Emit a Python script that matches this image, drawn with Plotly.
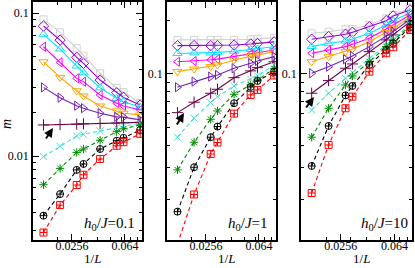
import numpy as np
import plotly.graph_objects as go

# ---------------- data ----------------
L_values = [64, 48, 36, 32, 24, 18, 16, 12]
inv_L = [1.0 / L for L in L_values]

h0_labels = ["0.1", "1", "10"]

# panel 1 : h0/J = 0.1
p1_grey = [0.0903, 0.0733, 0.0567, 0.0503, 0.0379, 0.0299, 0.0280, 0.0235]
p1_violet = [0.0811, 0.0647, 0.0490, 0.0445, 0.0340, 0.0277, 0.0257, 0.0227]
p1_cyan = [0.0710, 0.0560, 0.0426, 0.0382, 0.0300, 0.0253, 0.0240, 0.0220]
p1_magenta = [0.0581, 0.0452, 0.0349, 0.0331, 0.0267, 0.0234, 0.0224, 0.0210]
p1_orange = [0.0456, 0.0355, 0.0286, 0.0263, 0.0224, 0.0207, 0.0199, 0.0194]
p1_indigo = [0.0302, 0.0256, 0.0225, 0.0216, 0.0199, 0.0188, 0.0187, 0.0179]
p1_maroon = [0.0165, 0.0166, 0.0167, 0.0168, 0.0169, 0.0170, 0.0171, 0.0172]
p1_turquoise = [0.0099, 0.0117, 0.0138, 0.0142, 0.0150, 0.0158, 0.0162, 0.0170]
p1_green = [0.0063, 0.0082, 0.0106, 0.0112, 0.0129, 0.0148, 0.0155, 0.0165]
p1_black = [0.00383, 0.00542, 0.0080, 0.0088, 0.0112, 0.0128, 0.0134, 0.0152]
p1_red = [0.00292, 0.00454, 0.00627, 0.0074, 0.00953, 0.0118, 0.0125, 0.0143]

# panel 2 : h0/J = 1
p2_grey = [0.155, 0.155, 0.155, 0.155, 0.155, 0.156, 0.157, 0.159]
p2_violet = [0.144, 0.144, 0.144, 0.144, 0.145, 0.147, 0.148, 0.151]
p2_cyan = [0.130, 0.131, 0.131, 0.132, 0.134, 0.137, 0.138, 0.142]
p2_magenta = [0.117, 0.118, 0.120, 0.121, 0.125, 0.129, 0.131, 0.136]
p2_orange = [0.1030, 0.1066, 0.1099, 0.1123, 0.1197, 0.125, 0.1277, 0.1332]
p2_indigo = [0.0843, 0.0906, 0.0966, 0.0987, 0.1076, 0.1148, 0.1182, 0.125]
p2_maroon = [0.0608, 0.0695, 0.078, 0.0821, 0.0953, 0.104, 0.1084, 0.117]
p2_turquoise = [0.0443, 0.0566, 0.0692, 0.0747, 0.0857, 0.0934, 0.0975, 0.112]
p2_green = [0.0291, 0.0415, 0.0558, 0.0621, 0.0770, 0.0868, 0.0926, 0.107]
p2_black = [0.0170, 0.0301, 0.0443, 0.0508, 0.0686, 0.0846, 0.0914, 0.103]
p2_red = [0.0112, 0.0212, 0.0357, 0.0414, 0.0600, 0.0763, 0.0814, 0.098]

# panel 3 : h0/J = 10
p3_grey = [0.1688, 0.1723, 0.1777, 0.1784, 0.1878, 0.2047, 0.2136, 0.2328]
p3_violet = [0.1563, 0.1616, 0.1667, 0.171, 0.1837, 0.1985, 0.2109, 0.2278]
p3_cyan = [0.1421, 0.1484, 0.1529, 0.1568, 0.1688, 0.1878, 0.1985, 0.2201]
p3_magenta = [0.1305, 0.1361, 0.1421, 0.1466, 0.1583, 0.1784, 0.1878, 0.2136]
p3_orange = [0.1171, 0.1249, 0.1332, 0.1379, 0.1515, 0.1701, 0.18, 0.2074]
p3_indigo = [0.1009, 0.1098, 0.1208, 0.126, 0.1421, 0.1631, 0.1723, 0.2021]
p3_maroon = [0.078, 0.0918, 0.1076, 0.1137, 0.1332, 0.1549, 0.1652, 0.1959]
p3_turquoise = [0.0629, 0.078, 0.0946, 0.1017, 0.1224, 0.1452, 0.1563, 0.1902]
p3_green = [0.0443, 0.0643, 0.0868, 0.0974, 0.1171, 0.1421, 0.1535, 0.1854]
p3_black = [0.0306, 0.0512, 0.0759, 0.0857, 0.1123, 0.1361, 0.1484, 0.1823]
p3_red = [0.0216, 0.0401, 0.0643, 0.0747, 0.103, 0.1305, 0.141, 0.1761]

x_tickvals = [0.0256, 0.064]
x_ticktext = ["0.0256", "0.064"]
x_minor = [0.02, 0.03, 0.04, 0.05, 0.06, 0.07, 0.08]
y_tickvals = [0.01, 0.1]
y_ticktext = ["0.01", "0.1"]
y_minor = [0.002, 0.003, 0.004, 0.005, 0.006, 0.007, 0.008, 0.009,
           0.02, 0.03, 0.04, 0.05, 0.06, 0.07, 0.08, 0.09, 0.2]

# ---------------- styles ----------------
colors = ["#d2d2d2", "#9400d3", "#00e5ff", "#ff00ff", "#ffa500", "#7221bc",
          "#670748", "#40e0d0", "#008b00", "#000000", "#ff0000"]
symbols = ["square-open", "diamond-open", "triangle-up-open", "triangle-left-open",
           "triangle-down-open", "triangle-right-open", "cross-thin-open",
           "x-thin-open", "asterisk-open", "circle-cross-open", "square-cross-open"]
sizes = [7, 8, 8, 8, 8, 8, 8, 7, 7, 7, 7]
dashes = ["solid"] * 7 + ["4px,3px"] * 4

panels = [
    [p1_grey, p1_violet, p1_cyan, p1_magenta, p1_orange, p1_indigo, p1_maroon,
     p1_turquoise, p1_green, p1_black, p1_red],
    [p2_grey, p2_violet, p2_cyan, p2_magenta, p2_orange, p2_indigo, p2_maroon,
     p2_turquoise, p2_green, p2_black, p2_red],
    [p3_grey, p3_violet, p3_cyan, p3_magenta, p3_orange, p3_indigo, p3_maroon,
     p3_turquoise, p3_green, p3_black, p3_red],
]

W, H = 415, 268
FONT = "Liberation Serif"
x_domains = [[33 / W, 142 / W], [167 / W, 276 / W], [301 / W, 412 / W]]
y_domain = [1 - 240 / H, 1 - 2 / H]
y_ranges = [[-2.587, -0.923], [-1.928, -0.598], [-1.928, -0.598]]
x_range = [-1.885, -1.065]

fig = go.Figure()
for pi, series in enumerate(panels):
    xa = "x" if pi == 0 else f"x{pi + 1}"
    ya = "y" if pi == 0 else f"y{pi + 1}"
    for si, vals in enumerate(series):
        fig.add_trace(go.Scatter(
            x=inv_L, y=vals, xaxis=xa, yaxis=ya, mode="lines+markers",
            line=dict(color=colors[si], width=1.1, dash=dashes[si]),
            marker=dict(symbol=symbols[si], size=sizes[si], color=colors[si],
                        line=dict(color=colors[si], width=1)),
            showlegend=False, hoverinfo="skip",
        ))

tickfont = dict(family=FONT, size=12, color="black")
layout = dict(
    width=W, height=H, margin=dict(l=0, r=0, t=0, b=0, pad=0),
    paper_bgcolor="white", plot_bgcolor="white", showlegend=False,
)
for pi in range(3):
    sx = "" if pi == 0 else str(pi + 1)
    layout["xaxis" + sx] = dict(
        type="log", range=x_range, domain=x_domains[pi], anchor="y" + sx,
        tickmode="array", tickvals=x_tickvals, ticktext=x_ticktext,
        ticks="inside", ticklen=6, tickwidth=1, tickcolor="black",
        minor=dict(tickmode="array", tickvals=x_minor, ticks="inside",
                   ticklen=3, tickcolor="black", showgrid=False),
        showline=True, linecolor="black", linewidth=1.5, mirror="allticks",
        showgrid=False, zeroline=False, tickfont=tickfont, automargin=False,
        ticklabelstandoff=-6,
    )
    layout["yaxis" + sx] = dict(
        type="log", range=y_ranges[pi], domain=y_domain, anchor="x" + sx,
        tickmode="array", tickvals=y_tickvals, ticktext=y_ticktext,
        ticks="inside", ticklen=6, tickwidth=1, tickcolor="black",
        minor=dict(tickmode="array", tickvals=y_minor, ticks="inside",
                   ticklen=3, tickcolor="black", showgrid=False),
        showline=True, linecolor="black", linewidth=1.5, mirror="allticks",
        showgrid=False, zeroline=False, tickfont=tickfont, automargin=False,
    )
fig.update_layout(**layout)

# axis titles
for pi in range(3):
    cx = (x_domains[pi][0] + x_domains[pi][1]) / 2 + 5 / W
    fig.add_annotation(
        xref="paper", yref="paper", x=cx, y=1 - 258 / H,
        xanchor="center", yanchor="middle", showarrow=False,
        text="1/<i>L</i>", font=dict(family=FONT, size=13, color="black"),
    )
fig.add_annotation(
    xref="paper", yref="paper", x=6 / W, y=1 - 124 / H,
    xanchor="center", yanchor="middle", showarrow=False, textangle=-90,
    text="<i>m</i>", font=dict(family=FONT, size=14, color="black"),
)

# labels h0/J
label_right = [137, 270, 410]
for pi in range(3):
    fig.add_annotation(
        xref="paper", yref="paper", x=label_right[pi] / W, y=1 - 224 / H,
        xanchor="right", yanchor="middle", showarrow=False,
        text=f"<i>h</i><sub>0</sub>/<i>J</i>={h0_labels[pi]}",
        font=dict(family=FONT, size=15, color="black"),
    )

# arrows pointing to the maroon curve
arrow_tips = [(53, 128), (184, 113), (314, 97)]
arrow_offsets = [(-8, 12), (-8, 13), (-9, 12)]
for (tx, ty), (ox, oy) in zip(arrow_tips, arrow_offsets):
    fig.add_annotation(
        xref="paper", yref="paper", x=tx / W, y=1 - ty / H, text="",
        showarrow=True, ax=ox, ay=oy, arrowhead=2, arrowsize=0.9,
        arrowwidth=2, arrowcolor="black", standoff=0,
    )

fig.write_html("out.html", config={"displayModeBar": False},
               post_script="document.body.style.margin='0px';document.body.style.overflow='hidden';")
